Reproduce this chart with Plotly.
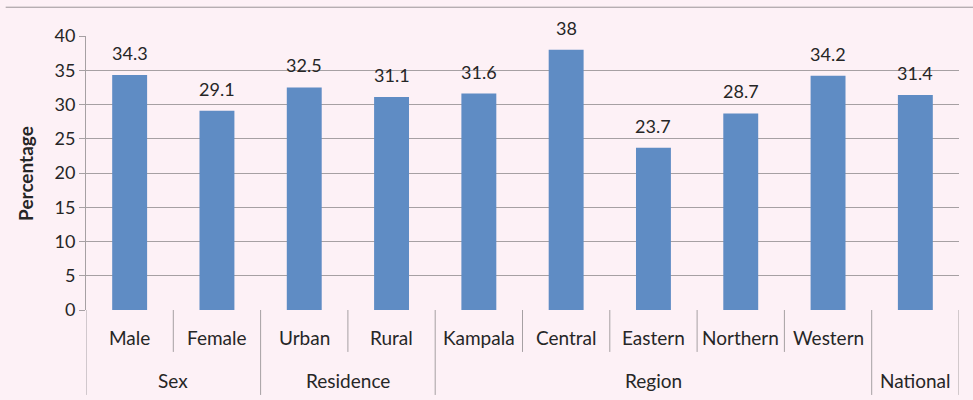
import plotly.graph_objects as go

categories = ["Male", "Female", "Urban", "Rural", "Kampala", "Central",
              "Eastern", "Northern", "Western", ""]
groups = ["Sex", "Sex", "Residence", "Residence", "Region", "Region",
          "Region", "Region", "Region", "National"]
values = [34.3, 29.1, 32.5, 31.1, 31.6, 38, 23.7, 28.7, 34.2, 31.4]
y_ticks = [0, 5, 10, 15, 20, 25, 30, 35, 40]

BG = "#fdf1f6"
BAR = "#5f8cc4"
GRID = "#a6a0a3"
TXT = "#262626"
FONT = "Lato"
FS = 19

n = len(values)
xs = list(range(n))

fig = go.Figure()
fig.add_trace(go.Bar(x=xs, y=values, width=0.4, marker_color=BAR,
                     marker_line_width=0, hoverinfo="skip"))

annotations = []
shapes = []
for x, v in zip(xs, values):
    annotations.append(dict(x=x, y=v, xref="x", yref="y", text=f"{v:g}",
                            showarrow=False, yanchor="bottom", yshift=9,
                            font=dict(family=FONT, size=18, color=TXT)))

Y_CAT = -0.102
Y_GRP = -0.259
Y_SEP1 = -0.153
Y_SEP2 = -0.31
for x, c in zip(xs, categories):
    if c:
        annotations.append(dict(x=x, y=Y_CAT, xref="x", yref="paper", text=c,
                                showarrow=False, yanchor="middle",
                                font=dict(family=FONT, size=FS, color=TXT)))

spans = []
start = 0
for i in range(1, n + 1):
    if i == n or groups[i] != groups[start]:
        spans.append((groups[start], start, i - 1))
        start = i
for name, a, b in spans:
    annotations.append(dict(x=(a + b) / 2, y=Y_GRP, xref="x", yref="paper",
                            text=name, showarrow=False, yanchor="middle",
                            font=dict(family=FONT, size=FS, color=TXT)))

boundaries_grp = {-0.5} | {b + 0.5 for _, a, b in spans}
for i in range(n + 1):
    xb = i - 0.5
    if xb in boundaries_grp:
        y1 = Y_SEP2
    elif categories[i - 1] and categories[i]:
        y1 = Y_SEP1
    else:
        continue
    shapes.append(dict(type="line", xref="x", yref="paper", x0=xb, x1=xb,
                       y0=0, y1=y1, line=dict(color=GRID, width=1)))

shapes.append(dict(type="line", xref="paper", yref="paper", x0=-0.092, x1=1.02,
                   y0=1.105, y1=1.105, line=dict(color="#9a9597", width=1)))

annotations.append(dict(x=-0.07, y=0.5, xref="paper", yref="paper",
                        xanchor="center", yanchor="middle",
                        text="<b>Percentage</b>", textangle=-90, showarrow=False,
                        font=dict(family=FONT, size=FS, color=TXT)))

fig.update_layout(
    width=973, height=400,
    margin=dict(l=86, r=14, t=36, b=90),
    paper_bgcolor=BG, plot_bgcolor=BG,
    showlegend=False,
    annotations=annotations, shapes=shapes,
    xaxis=dict(range=[-0.5, n - 0.5], showticklabels=False, showgrid=False,
               zeroline=False, showline=False, ticks=""),
    yaxis=dict(range=[0, 40], tickvals=y_ticks, showgrid=True, gridcolor=GRID,
               gridwidth=1, zeroline=False, showline=True, linecolor=GRID,
               ticks="outside", ticklen=6, tickcolor=GRID,
               tickfont=dict(family=FONT, size=18, color=TXT)),
    bargap=0.6,
)

fig.write_html("out.html", config={"displayModeBar": False},
               post_script="document.body.style.margin='0';"
                           "document.body.style.background='" + BG + "';")
